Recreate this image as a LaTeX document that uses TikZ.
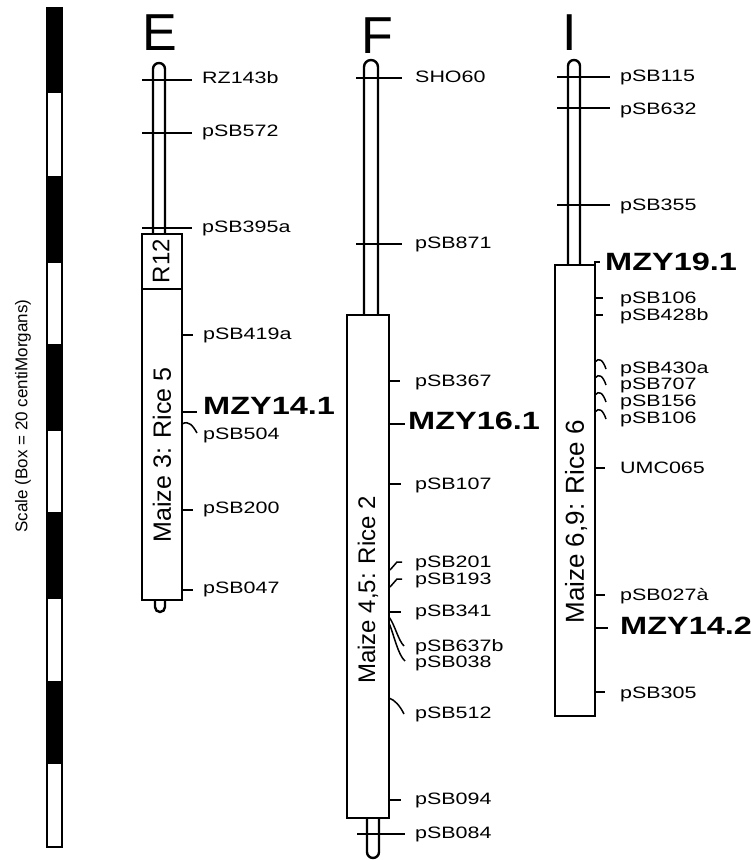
\documentclass[tikz,border=0pt]{standalone}
\usepackage{fontspec}
\setmainfont{Liberation Sans}
\newfontfamily\labfont[FakeStretch=1.3]{Liberation Sans}
\begin{document}
\begin{tikzpicture}[x=1pt,y=-1pt,
  chrom/.style={line width=2.4pt},
  tick/.style={line width=1.5pt},
  lab/.style={anchor=mid west, inner sep=0pt, font=\labfont\fontsize{16.5}{16.5}\selectfont},
  qtl/.style={anchor=mid west, inner sep=0pt, font=\labfont\bfseries\fontsize{25}{25}\selectfont},
  big/.style={anchor=base, inner sep=0pt, font=\fontsize{52}{52}\selectfont},
  region/.style={rotate=90, inner sep=0pt, font=\fontsize{25}{25}\selectfont},
]
\useasboundingbox (0,0) rectangle (751,860);

% ---------- scale bar ----------
\foreach \a/\b in {8/92,177/262,345/430,513/598,682/763}
  \fill[black] (47,\a) rectangle (62,\b);
\foreach \a/\b in {92/177,262/345,430/513,598/682,763/847}
  \draw[line width=1.5pt, fill=white] (47,\a) rectangle (62,\b);
\draw[line width=1.5pt] (47,8) rectangle (62,847);
\node[rotate=90, inner sep=0pt, font=\fontsize{17}{17}\selectfont] (scale) at (23,416) {Scale (Box = 20 centiMorgans)};

% ---------- titles ----------
\node[big] (tE) at (160,50) {E};
\node[big] (tF) at (377,53) {F};
\node[big] (tI) at (570,50) {I};

% ---------- chromosome E ----------
\draw[chrom, rounded corners=6pt] (153,234) -- (153,63) -- (165,63) -- (165,234);
\draw[chrom] (142,234) rectangle (182,600);
\draw[chrom] (142,289) -- (182,289);
\draw[chrom, rounded corners=5pt] (155,600) -- (155,612) -- (165,612) -- (165,600);
\node[region, font=\fontsize{24}{24}\selectfont] (r12) at (161,261) {R12};
\node[region] (eR) at (162,455) {Maize 3: Rice 5};

\draw[tick] (142,80) -- (192,80);   \node[lab] (e1) at (202,81) {RZ143b};
\draw[tick] (142,133) -- (192,133); \node[lab] (e2) at (202,134) {pSB572};
\draw[tick] (142,228) -- (192,228); \node[lab] (e3) at (202,230) {pSB395a};
\draw[tick] (182,335) -- (193,335); \node[lab] (e4) at (203,337) {pSB419a};
\draw[tick] (182,412) -- (197,412); \node[qtl] (e5) at (203,412) {MZY14.1};
\draw[tick] (182,424) .. controls (189,420) and (193,426) .. (197,433); \node[lab] (e6) at (203,437) {pSB504};
\draw[tick] (182,510) -- (193,510); \node[lab] (e7) at (203,511) {pSB200};
\draw[tick] (182,590) -- (193,590); \node[lab] (e8) at (203,591) {pSB047};

% ---------- chromosome F ----------
\draw[chrom, rounded corners=7pt] (364,315) -- (364,60) -- (378,60) -- (378,315);
\draw[chrom] (347,315) rectangle (389,818);
\draw[chrom, rounded corners=6pt] (367,818) -- (367,858) -- (379,858) -- (379,818);
\node[region, font=\fontsize{24}{24}\selectfont] (fR) at (368,590) {Maize 4,5: Rice 2};

\draw[tick] (356,78) -- (402,78);   \node[lab] (f1) at (415,80) {SHO60};
\draw[tick] (356,244) -- (402,244); \node[lab] (f2) at (415,246) {pSB871};
\draw[tick] (389,381) -- (400,381); \node[lab] (f3) at (415,384) {pSB367};
\draw[tick] (389,424) -- (405,424); \node[qtl] (f4) at (408,427) {MZY16.1};
\draw[tick] (389,484) -- (401,484); \node[lab] (f5) at (415,487) {pSB107};
\draw[tick] (390,570) -- (397,562) -- (402,562); \node[lab] (f6) at (415,565) {pSB201};
\draw[tick] (390,587) -- (397,579) -- (402,579); \node[lab] (f7) at (415,582) {pSB193};
\draw[tick] (389,612) -- (401,612); \node[lab] (f8) at (415,614) {pSB341};
\draw[tick] (389,617) .. controls (395,625) and (398,640) .. (404,646); \node[lab] (f9) at (415,649) {pSB637b};
\draw[tick] (389,623) .. controls (394,635) and (398,655) .. (405,661); \node[lab] (f10) at (415,665) {pSB038};
\draw[tick] (389,698) .. controls (395,700) and (400,706) .. (404,714); \node[lab] (f11) at (415,716) {pSB512};
\draw[tick] (389,800) -- (401,800); \node[lab] (f12) at (415,802) {pSB094};
\draw[tick] (357,834) -- (405,834); \node[lab] (f13) at (415,836) {pSB084};

% ---------- chromosome I ----------
\draw[chrom, rounded corners=6pt] (568,265) -- (568,60) -- (580,60) -- (580,265);
\draw[chrom] (555,265) rectangle (595,716);
\node[region, font=\fontsize{26}{26}\selectfont] (iR) at (576,522) {Maize 6,9: Rice 6};

\draw[tick] (557,77) -- (610,77);   \node[lab] (i1) at (620,79) {pSB115};
\draw[tick] (557,108) -- (610,108); \node[lab] (i2) at (620,112) {pSB632};
\draw[tick] (557,205) -- (610,205); \node[lab] (i3) at (620,208) {pSB355};
\draw[tick] (595,266) -- (595,262) -- (600,262); \node[qtl] (i4) at (605,268) {MZY19.1};
\draw[tick] (595,298) -- (603,298); \node[lab] (i5) at (620,301) {pSB106};
\draw[tick] (595,315) -- (603,315); \node[lab] (i6) at (620,318) {pSB428b};
\draw[tick] (595,362) .. controls (599,357) and (603,360) .. (606,369); \node[lab] (i7) at (620,371) {pSB430a};
\draw[tick] (595,378) .. controls (599,373) and (603,376) .. (606,385); \node[lab] (i8) at (620,387) {pSB707};
\draw[tick] (595,395) .. controls (599,390) and (603,393) .. (606,402); \node[lab] (i9) at (620,404) {pSB156};
\draw[tick] (595,412) .. controls (599,407) and (603,410) .. (606,419); \node[lab] (i10) at (620,421) {pSB106};
\draw[tick] (595,468) -- (605,468); \node[lab] (i11) at (620,471) {UMC065};
\draw[tick] (595,595) -- (605,595); \node[lab] (i12) at (620,598) {pSB027à};
\draw[tick] (595,628) -- (608,628); \node[qtl] (i13) at (620,632) {MZY14.2};
\draw[tick] (595,692) -- (605,692); \node[lab] (i14) at (620,696) {pSB305};
\end{tikzpicture}
\end{document}
